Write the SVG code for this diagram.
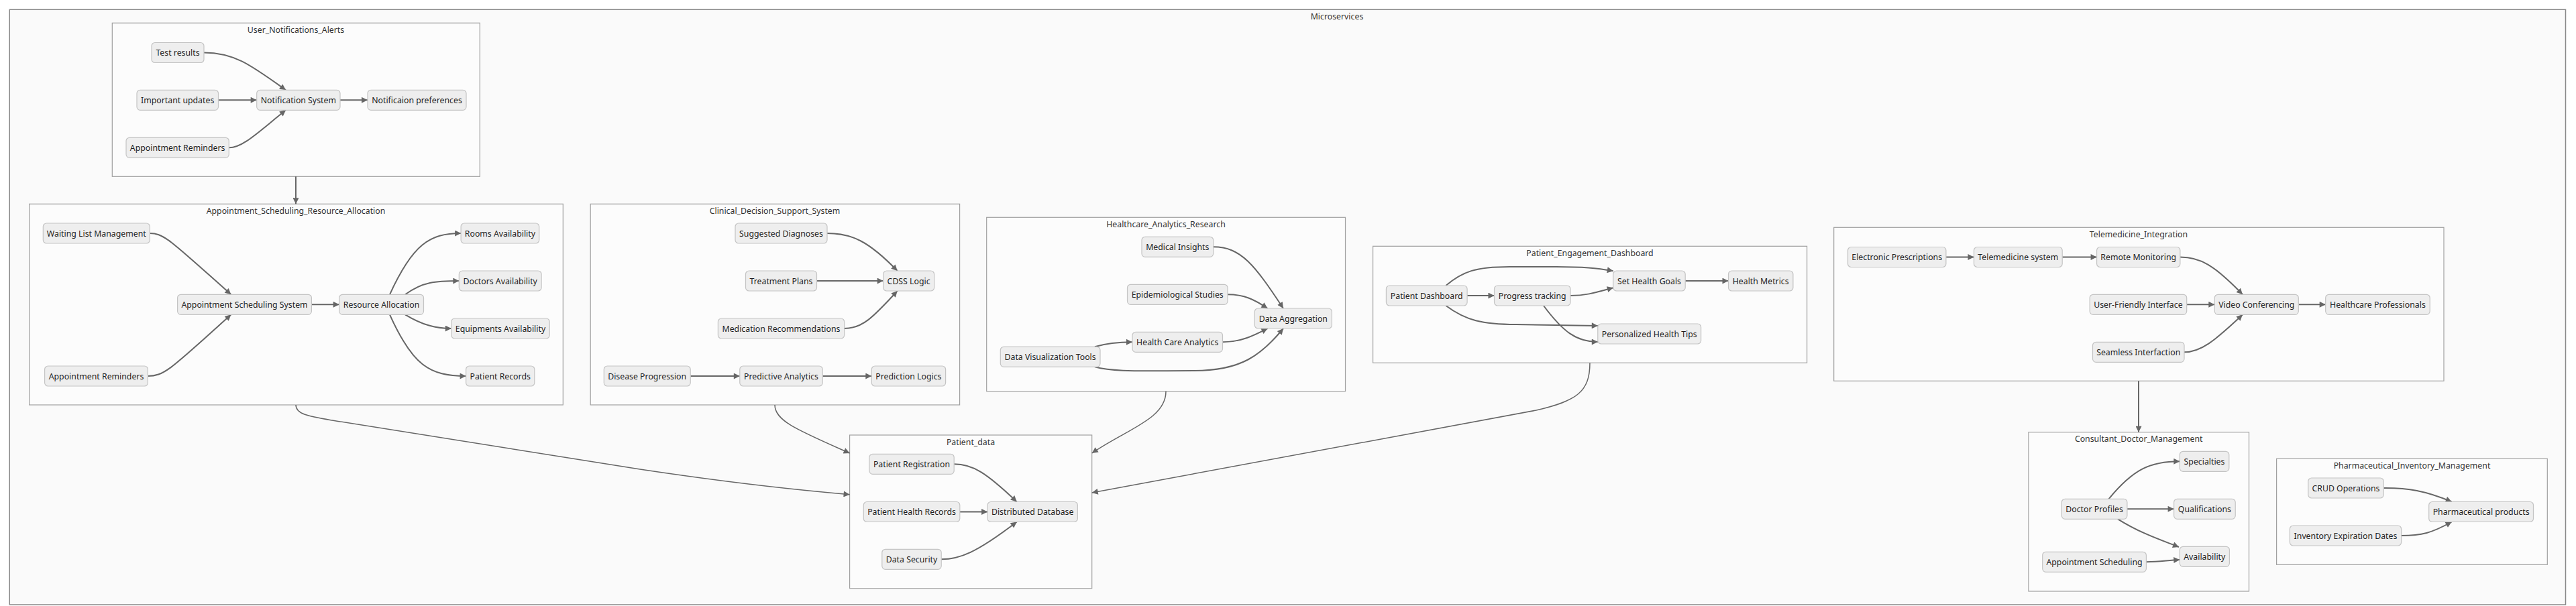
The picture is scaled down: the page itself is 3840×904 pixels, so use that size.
<svg xmlns="http://www.w3.org/2000/svg" width="3840" height="904" viewBox="0 0 3840 904">
<style>
.cl{fill:#fcfcfc;stroke:#a0a0a0;stroke-width:1.2}
.outer{fill:#fafafa;stroke:#888;stroke-width:1.5}
.ct{font-family:"Noto Sans","Open Sans",sans-serif;font-size:12.3px;fill:#333;text-anchor:middle;dominant-baseline:central}
.n rect{fill:#eeeeee;stroke:#c4c4c4;stroke-width:1.2}
.n text{font-family:"Noto Sans","Open Sans",sans-serif;font-size:12.3px;fill:#1e1e1e;text-anchor:middle;dominant-baseline:central}
.e path{fill:none;stroke:#666;stroke-width:2;marker-end:url(#ah)}
.e path.x{stroke-width:1.5}
</style>
<defs>
<marker id="ah" viewBox="0 0 10 10" refX="10" refY="5" markerUnits="userSpaceOnUse" markerWidth="10" markerHeight="9" orient="auto"><path d="M0,0 L10,5 L0,10 z" fill="#666"/></marker>
</defs>
<rect width="3840" height="904" fill="#ffffff"/>
<g id="clusters">
<g id="Microservices"><rect class="outer" x="14.3" y="14.3" width="3810.2" height="887.7"/><text class="ct" x="1993" y="24">Microservices</text></g>
<g id="User_Notifications_Alerts"><rect class="cl" x="167.3" y="34.3" width="548" height="229"/><text class="ct" x="441" y="44.3">User_Notifications_Alerts</text></g>
<g id="Appointment_Scheduling_Resource_Allocation"><rect class="cl" x="43.6" y="304.3" width="795.7" height="299.7"/><text class="ct" x="441" y="314.3">Appointment_Scheduling_Resource_Allocation</text></g>
<g id="Clinical_Decision_Support_System"><rect class="cl" x="880.2" y="304.3" width="550.4" height="299.7"/><text class="ct" x="1155" y="314.3">Clinical_Decision_Support_System</text></g>
<g id="Healthcare_Analytics_Research"><rect class="cl" x="1470.7" y="324.3" width="534.8" height="259.4"/><text class="ct" x="1738" y="334.5">Healthcare_Analytics_Research</text></g>
<g id="Patient_Engagement_Dashboard"><rect class="cl" x="2046.6" y="367.3" width="647" height="174"/><text class="ct" x="2370" y="377.3">Patient_Engagement_Dashboard</text></g>
<g id="Telemedicine_Integration"><rect class="cl" x="2733.7" y="339.3" width="909.3" height="229"/><text class="ct" x="3188" y="349.5">Telemedicine_Integration</text></g>
<g id="Consultant_Doctor_Management"><rect class="cl" x="3023.9" y="644.7" width="328.6" height="237.3"/><text class="ct" x="3188.2" y="654.8">Consultant_Doctor_Management</text></g>
<g id="Pharmaceutical_Inventory_Management"><rect class="cl" x="3393.6" y="684.3" width="403.7" height="158"/><text class="ct" x="3595.5" y="694.3">Pharmaceutical_Inventory_Management</text></g>
<g id="Patient_data"><rect class="cl" x="1266.6" y="649" width="361.1" height="228.7"/><text class="ct" x="1447" y="659">Patient_data</text></g>
</g>
<g id="connectors" class="e">
<path d="M304,78.5 C350,78.5 375,98 426,134.3"/>
<path d="M325.5,149.3 L382.7,149.3"/>
<path d="M341.3,220.3 C362,220.3 385,197 426,164.3"/>
<path d="M507,149.3 L548,149.3"/>
<path d="M441,263.3 L441,304.3"/>
<path d="M223.3,348 C245,348 255,360 344.4,439.3"/>
<path d="M220.4,561 C245,561 255,550 344.4,469.3"/>
<path d="M464.4,454.3 L505.7,454.3"/>
<path d="M581,439.3 C615,365 640,348 687.1,348"/>
<path d="M604,439.3 C630,420 650,419 684.3,419"/>
<path d="M604,469.3 C630,485 650,490 672.8,490"/>
<path d="M581,469.3 C615,545 640,561 694.6,561"/>
<path d="M1233,348 C1270,348 1295,360 1337.7,404"/>
<path d="M1217.5,419 L1316.7,419"/>
<path d="M1258.6,490 C1285,490 1300,475 1337.7,434"/>
<path d="M1029.2,561 L1102.8,561"/>
<path d="M1226.2,561 L1299.3,561"/>
<path d="M1808.7,368.3 C1850,368.3 1870,395 1913,460"/>
<path d="M1830,439.3 C1855,439.3 1870,447 1889.5,460"/>
<path d="M1822.5,510.3 C1850,510.3 1870,500 1889.5,490"/>
<path d="M1632,517.3 C1650,512 1665,510.3 1688,510.3"/>
<path d="M1632,547.3 C1660,555 1700,553 1780,553 C1850,553 1880,530 1913,490"/>
<path d="M2187.1,441 L2227.5,441"/>
<path d="M2155.4,426 C2180,405 2200,398 2250,398 L2320,398 C2360,398 2380,400 2404.8,404.3"/>
<path d="M2341,441 C2365,441 2380,436 2404.8,429.3"/>
<path d="M2155.4,456 C2185,478 2210,484 2260,484 L2381.8,486"/>
<path d="M2301,456 C2330,495 2350,510 2381.8,510"/>
<path d="M2512.2,419 L2576.5,419"/>
<path d="M2900.9,383.5 L2942.5,383.5"/>
<path d="M3074.2,383.5 L3125.6,383.5"/>
<path d="M3249.9,383.5 C3280,383.5 3300,395 3343,439.3"/>
<path d="M3259.7,454.3 L3301.3,454.3"/>
<path d="M3256,525.3 C3280,525.3 3300,510 3343,469.3"/>
<path d="M3426.3,454.3 L3466.7,454.3"/>
<path d="M3188,568.3 L3188,644.7"/>
<path d="M3143.5,744.3 C3180,700 3205,688.3 3249.3,688.3"/>
<path d="M3170.9,759.3 L3240.6,759.3"/>
<path d="M3157,774.3 C3190,795 3220,805 3248,816"/>
<path d="M3199.4,838.3 C3220,838 3230,836 3249.3,835"/>
<path d="M3553.2,728 C3590,728 3615,732 3654.7,748.5"/>
<path d="M3579.6,799 C3610,799 3625,795 3654.7,778.5"/>
<path d="M1422.2,692.3 C1450,692.3 1470,705 1515.7,748.5"/>
<path d="M1430.8,763.5 L1472.1,763.5"/>
<path d="M1403.2,834.3 C1430,834.3 1455,825 1515.7,778.5"/>
<path class="x" d="M441,604 C441,618 460,621 495,627 L954,700 C1100,722 1200,732 1266.6,737.7"/>
<path class="x" d="M1155,604 C1155,628 1190,642 1266.6,676"/>
<path class="x" d="M1738,583.7 C1738,625 1680,640 1627.7,676"/>
<path class="x" d="M2370,541.3 C2370,585 2350,598 2290,612 L1627.7,735"/>
</g>
<g id="nodes">
<g id="n1" class="n"><rect x="226" y="63.5" width="78" height="30" rx="5"/><text x="265" y="78.5">Test results</text></g>
<g id="n2" class="n"><rect x="204" y="134.3" width="121.5" height="30" rx="5"/><text x="264.7" y="149.3">Important updates</text></g>
<g id="n3" class="n"><rect x="382.7" y="134.3" width="124.3" height="30" rx="5"/><text x="444.8" y="149.3">Notification System</text></g>
<g id="n4" class="n"><rect x="548" y="134.3" width="147" height="30" rx="5"/><text x="621.5" y="149.3">Notificaion preferences</text></g>
<g id="n5" class="n"><rect x="188" y="205.3" width="153.3" height="30" rx="5"/><text x="264.6" y="220.3">Appointment Reminders</text></g>
<g id="n6" class="n"><rect x="64.3" y="333" width="159" height="30" rx="5"/><text x="143.8" y="348">Waiting List Management</text></g>
<g id="n7" class="n"><rect x="264.6" y="439.3" width="199.8" height="30" rx="5"/><text x="364.5" y="454.3">Appointment Scheduling System</text></g>
<g id="n8" class="n"><rect x="505.7" y="439.3" width="125.8" height="30" rx="5"/><text x="568.6" y="454.3">Resource Allocation</text></g>
<g id="n9" class="n"><rect x="687.1" y="333" width="116.6" height="30" rx="5"/><text x="745.4" y="348">Rooms Availability</text></g>
<g id="n10" class="n"><rect x="684.3" y="404" width="122.8" height="30" rx="5"/><text x="745.7" y="419">Doctors Availability</text></g>
<g id="n11" class="n"><rect x="672.8" y="475" width="146.4" height="30" rx="5"/><text x="746" y="490">Equipments Availability</text></g>
<g id="n12" class="n"><rect x="694.6" y="546" width="102.2" height="30" rx="5"/><text x="745.7" y="561">Patient Records</text></g>
<g id="n13" class="n"><rect x="66.6" y="546" width="153.8" height="30" rx="5"/><text x="143.5" y="561">Appointment Reminders</text></g>
<g id="n14" class="n"><rect x="1096" y="333" width="137" height="30" rx="5"/><text x="1164.5" y="348">Suggested Diagnoses</text></g>
<g id="n15" class="n"><rect x="1111.5" y="404" width="106" height="30" rx="5"/><text x="1164.5" y="419">Treatment Plans</text></g>
<g id="n16" class="n"><rect x="1316.7" y="404" width="75.9" height="30" rx="5"/><text x="1354.6" y="419">CDSS Logic</text></g>
<g id="n17" class="n"><rect x="1070.4" y="475" width="188.2" height="30" rx="5"/><text x="1164.5" y="490">Medication Recommendations</text></g>
<g id="n18" class="n"><rect x="900.3" y="546" width="128.9" height="30" rx="5"/><text x="964.7" y="561">Disease Progression</text></g>
<g id="n19" class="n"><rect x="1102.8" y="546" width="123.4" height="30" rx="5"/><text x="1164.5" y="561">Predictive Analytics</text></g>
<g id="n20" class="n"><rect x="1299.3" y="546" width="110.3" height="30" rx="5"/><text x="1354.4" y="561">Prediction Logics</text></g>
<g id="n21" class="n"><rect x="1702" y="353.3" width="106.7" height="30" rx="5"/><text x="1755.3" y="368.3">Medical Insights</text></g>
<g id="n22" class="n"><rect x="1680.5" y="424.3" width="149.5" height="30" rx="5"/><text x="1755.2" y="439.3">Epidemiological Studies</text></g>
<g id="n23" class="n"><rect x="1870.3" y="460" width="115.1" height="30" rx="5"/><text x="1927.8" y="475">Data Aggregation</text></g>
<g id="n24" class="n"><rect x="1688" y="495.3" width="134.5" height="30" rx="5"/><text x="1755.2" y="510.3">Health Care Analytics</text></g>
<g id="n25" class="n"><rect x="1491.3" y="517.3" width="148.7" height="30" rx="5"/><text x="1565.6" y="532.3">Data Visualization Tools</text></g>
<g id="n26" class="n"><rect x="2066.4" y="426" width="120.7" height="30" rx="5"/><text x="2126.7" y="441">Patient Dashboard</text></g>
<g id="n27" class="n"><rect x="2227.5" y="426" width="113.5" height="30" rx="5"/><text x="2284.2" y="441">Progress tracking</text></g>
<g id="n28" class="n"><rect x="2404.8" y="404" width="107.4" height="30" rx="5"/><text x="2458.5" y="419">Set Health Goals</text></g>
<g id="n29" class="n"><rect x="2576.5" y="404" width="96.4" height="30" rx="5"/><text x="2624.7" y="419">Health Metrics</text></g>
<g id="n30" class="n"><rect x="2381.8" y="483" width="153.8" height="30" rx="5"/><text x="2458.7" y="498">Personalized Health Tips</text></g>
<g id="n31" class="n"><rect x="2754.5" y="368.5" width="146.4" height="30" rx="5"/><text x="2827.7" y="383.5">Electronic Prescriptions</text></g>
<g id="n32" class="n"><rect x="2942.5" y="368.5" width="131.7" height="30" rx="5"/><text x="3008.3" y="383.5">Telemedicine system</text></g>
<g id="n33" class="n"><rect x="3125.6" y="368.5" width="124.3" height="30" rx="5"/><text x="3187.7" y="383.5">Remote Monitoring</text></g>
<g id="n34" class="n"><rect x="3115.2" y="439.3" width="144.5" height="30" rx="5"/><text x="3187.4" y="454.3">User-Friendly Interface</text></g>
<g id="n35" class="n"><rect x="3301.3" y="439.3" width="125" height="30" rx="5"/><text x="3363.8" y="454.3">Video Conferencing</text></g>
<g id="n36" class="n"><rect x="3466.7" y="439.3" width="155.5" height="30" rx="5"/><text x="3544.4" y="454.3">Healthcare Professionals</text></g>
<g id="n37" class="n"><rect x="3119.5" y="510.3" width="136.5" height="30" rx="5"/><text x="3187.7" y="525.3">Seamless Interfaction</text></g>
<g id="n38" class="n"><rect x="3249.3" y="673.3" width="73.5" height="30" rx="5"/><text x="3286" y="688.3">Specialties</text></g>
<g id="n39" class="n"><rect x="3073.3" y="744.3" width="97.6" height="30" rx="5"/><text x="3122.1" y="759.3">Doctor Profiles</text></g>
<g id="n40" class="n"><rect x="3240.6" y="744.3" width="91.6" height="30" rx="5"/><text x="3286.4" y="759.3">Qualifications</text></g>
<g id="n41" class="n"><rect x="3249.3" y="815.3" width="74.1" height="30" rx="5"/><text x="3286.3" y="830.3">Availability</text></g>
<g id="n42" class="n"><rect x="3044.7" y="823.3" width="154.7" height="30" rx="5"/><text x="3122" y="838.3">Appointment Scheduling</text></g>
<g id="n43" class="n"><rect x="3440.8" y="713" width="112.4" height="30" rx="5"/><text x="3497" y="728">CRUD Operations</text></g>
<g id="n44" class="n"><rect x="3620.7" y="748.5" width="155.8" height="30" rx="5"/><text x="3698.6" y="763.5">Pharmaceutical products</text></g>
<g id="n45" class="n"><rect x="3413.4" y="784" width="166.2" height="30" rx="5"/><text x="3496.5" y="799">Inventory Expiration Dates</text></g>
<g id="n46" class="n"><rect x="1295.9" y="677.3" width="126.3" height="30" rx="5"/><text x="1359" y="692.3">Patient Registration</text></g>
<g id="n47" class="n"><rect x="1287.3" y="748.5" width="143.5" height="30" rx="5"/><text x="1359" y="763.5">Patient Health Records</text></g>
<g id="n48" class="n"><rect x="1472.1" y="748.5" width="134.3" height="30" rx="5"/><text x="1539.2" y="763.5">Distributed Database</text></g>
<g id="n49" class="n"><rect x="1314.8" y="819.3" width="88.4" height="30" rx="5"/><text x="1359" y="834.3">Data Security</text></g>
</g>
</svg>
